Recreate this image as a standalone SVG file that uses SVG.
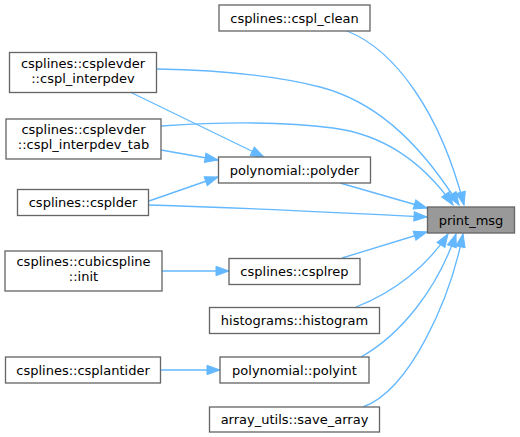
<svg xmlns="http://www.w3.org/2000/svg" width="520" height="437" viewBox="0 0 520 437">
<style>
.n rect{fill:#ffffff;stroke:#666666;stroke-width:1.33}
.hl rect{fill:#999999;stroke:#666666;stroke-width:1.33}
text{font-family:"DejaVu Sans","Liberation Sans",sans-serif;font-size:13px;fill:#000000;text-anchor:middle}
.e path{fill:none;stroke:#63b8ff;stroke-width:1.33;marker-end:url(#ah)}
</style>
<defs>
<marker id="ah" markerUnits="userSpaceOnUse" markerWidth="14" markerHeight="10" refX="13" refY="4.7" orient="auto" overflow="visible">
<path d="M0,0 L13,4.7 L0,9.4 z" fill="#63b8ff" stroke="#63b8ff" stroke-width="1"/>
</marker>
</defs>
<rect width="520" height="437" fill="#ffffff"/>
<g class="e" id="edges">
<path d="M347,31 C395,50 440,112 464,205"/>
<path d="M157,69 C210,70 270,74 320,87 S415,135 459,205"/>
<path d="M161,126 C220,122 280,121 333,128 S425,165 453,205"/>
<path d="M130,92 L264,157"/>
<path d="M161,150 L218,160"/>
<path d="M149,201 L218,177"/>
<path d="M149,205 C250,208 350,213 427,217"/>
<path d="M340,183 L427,208"/>
<path d="M162,271 L229,271"/>
<path d="M342,258 L427,232"/>
<path d="M356,307 C395,292 428,265 448,234"/>
<path d="M161,370 L220,370"/>
<path d="M361,357 C400,335 437,290 456,234"/>
<path d="M363,407 C410,390 450,300 463,234"/>
</g>
<g class="hl" id="print_msg"><rect x="427.5" y="207" width="87" height="26"/><text x="471" y="224.5">print_msg</text></g>
<g class="n" id="cspl_clean"><rect x="219" y="5" width="151" height="26"/><text x="294.5" y="22.5">csplines::cspl_clean</text></g>
<g class="n" id="cspl_interpdev"><rect x="9.5" y="52.5" width="147" height="40"/><text x="83" y="67.5">csplines::csplevder</text><text x="83" y="82.5">::cspl_interpdev</text></g>
<g class="n" id="cspl_interpdev_tab"><rect x="6" y="119" width="155" height="40"/><text x="83.5" y="134">csplines::csplevder</text><text x="83.5" y="149">::cspl_interpdev_tab</text></g>
<g class="n" id="polyder"><rect x="218.5" y="157" width="152" height="26"/><text x="294.5" y="174.5">polynomial::polyder</text></g>
<g class="n" id="csplder"><rect x="17.5" y="189.5" width="131" height="26"/><text x="83" y="207">csplines::csplder</text></g>
<g class="n" id="cubicspline_init"><rect x="5" y="251" width="157" height="40"/><text x="83.5" y="266">csplines::cubicspline</text><text x="83.5" y="281">::init</text></g>
<g class="n" id="csplrep"><rect x="229" y="258.5" width="131" height="26"/><text x="294.5" y="276">csplines::csplrep</text></g>
<g class="n" id="histogram"><rect x="209.5" y="307.5" width="170" height="26"/><text x="294.5" y="325">histograms::histogram</text></g>
<g class="n" id="csplantider"><rect x="5.5" y="357" width="155" height="26"/><text x="83" y="374.5">csplines::csplantider</text></g>
<g class="n" id="polyint"><rect x="220" y="357" width="149" height="26"/><text x="294.5" y="374.5">polynomial::polyint</text></g>
<g class="n" id="save_array"><rect x="209.5" y="407" width="170" height="25"/><text x="294.5" y="424">array_utils::save_array</text></g>
</svg>
